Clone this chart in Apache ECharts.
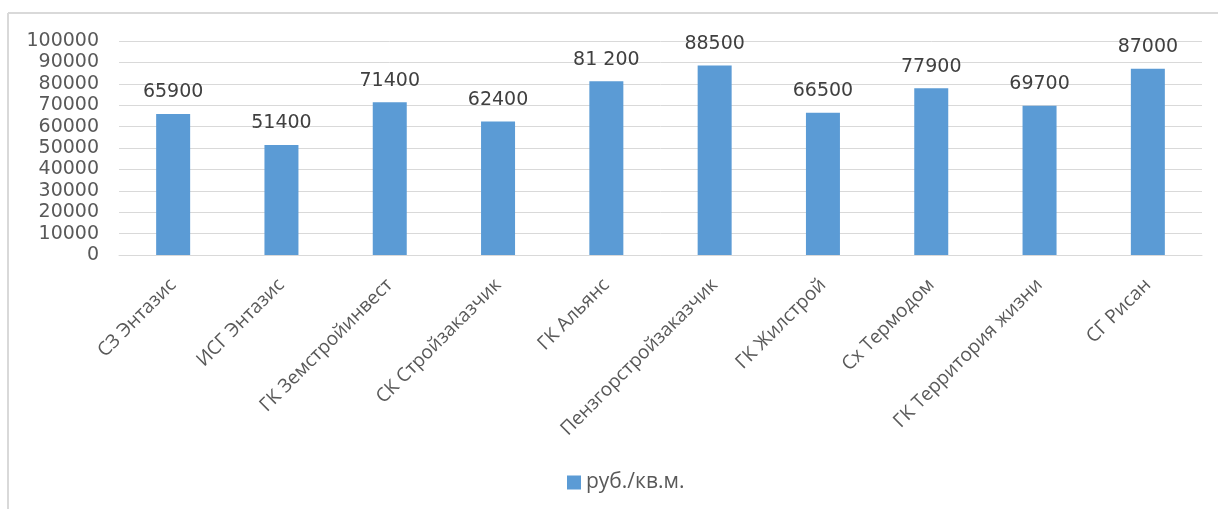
<!DOCTYPE html>
<html>
<head>
<meta charset="utf-8">
<script src="https://cdn.jsdelivr.net/npm/echarts@6/dist/echarts.min.js"></script>
<style>
html,body{margin:0;padding:0;background:#fff;}
#chart{width:1218px;height:509px;}
</style>
</head>
<body>
<div id="chart"></div>
<script>
const categories = ['СЗ Энтазис','ИСГ Энтазис','ГК Земстройинвест','СК Стройзаказчик','ГК Альянс','Пензгорстройзаказчик','ГК Жилстрой','Сх Термодом','ГК Территория жизни','СГ Рисан'];
const values = [65900, 51400, 71400, 62400, 81200, 88500, 66500, 77900, 69700, 87000];
const valueLabels = ['65900','51400','71400','62400','81 200','88500','66500','77900','69700','87000'];
const seriesName = 'руб./кв.м.';
const yTicks = {min: 0, max: 100000, interval: 10000};

const chart = echarts.init(document.getElementById('chart'));
chart.setOption({
  animation: false,
  backgroundColor: '#fff',
  graphic: [
    {type:'line', shape:{x1:8, y1:13, x2:1218, y2:13}, style:{stroke:'#d9d9d9', lineWidth:2}},
    {type:'line', shape:{x1:8, y1:13, x2:8, y2:509}, style:{stroke:'#d9d9d9', lineWidth:2}}
  ],
  grid: {left: 119, right: 16, top: 41, bottom: 254, containLabel: false},
  legend: {
    data: [seriesName],
    left: 562,
    top: 467,
    icon: 'rect',
    itemWidth: 14,
    itemHeight: 14,
    itemGap: 6,
    textStyle: {fontFamily: 'Open Sans', fontSize: 21, color: '#595959'}
  },
  xAxis: {
    type: 'category',
    data: categories,
    axisLine: {show: true, lineStyle: {color: '#d9d9d9', width: 1}},
    axisTick: {show: false},
    axisLabel: {
      interval: 0,
      rotate: 45,
      margin: 27,
      fontFamily: 'Open Sans',
      fontSize: 19,
      color: '#595959'
    }
  },
  yAxis: {
    type: 'value',
    min: yTicks.min,
    max: yTicks.max,
    interval: yTicks.interval,
    axisLine: {show: false},
    axisTick: {show: false},
    splitLine: {lineStyle: {color: '#d9d9d9', width: 1}},
    axisLabel: {
      margin: 20,
      fontFamily: 'DejaVu Sans',
      fontSize: 19,
      color: '#595959',
      formatter: v => String(v)
    }
  },
  series: [{
    name: seriesName,
    type: 'bar',
    data: values,
    barWidth: 34,
    itemStyle: {color: '#5b9bd5'},
    label: {
      show: true,
      position: 'top',
      distance: 12,
      fontFamily: 'DejaVu Sans',
      fontSize: 19,
      color: '#404040',
      formatter: p => valueLabels[p.dataIndex]
    }
  }]
});
</script>
</body>
</html>
